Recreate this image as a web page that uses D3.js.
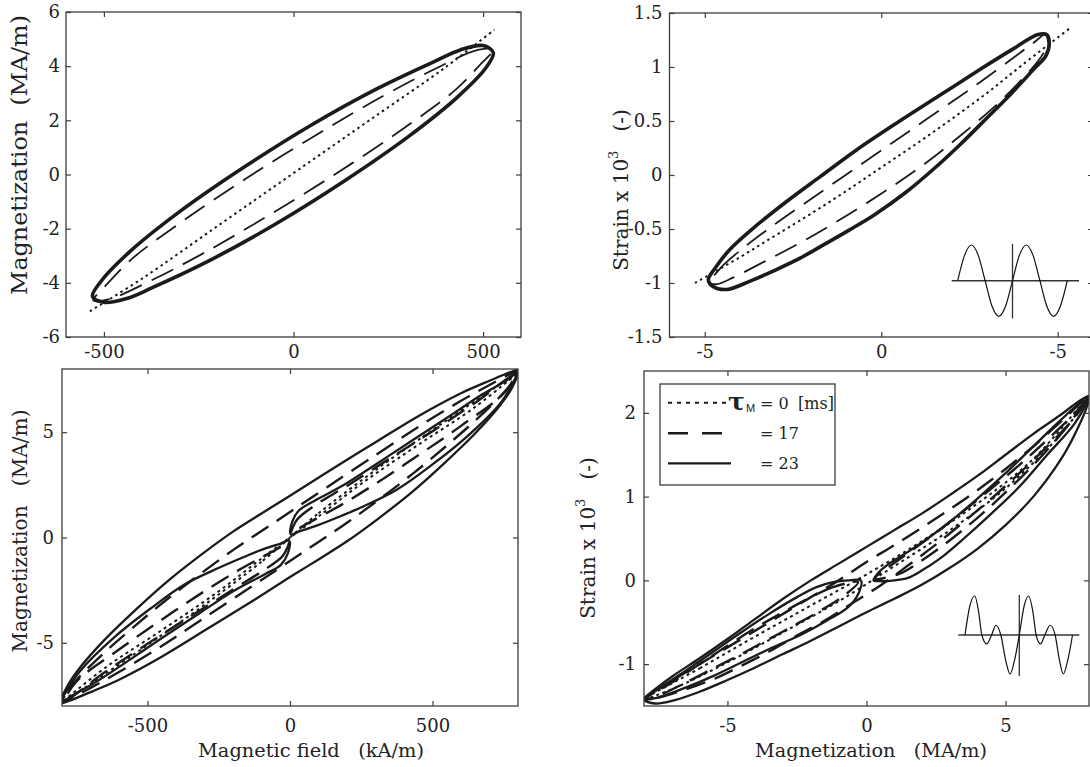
<!DOCTYPE html>
<html lang="en">
<head>
<meta charset="UTF-8">
<title>Magnetization and strain loops</title>
<script src="https://d3js.org/d3.v7.min.js"></script>
<style>
  body { margin: 0; background: #fff; }
  svg { display: block; }
  svg text { font-family: 'DejaVu Serif', 'Liberation Serif', serif; }
  .frame { fill: none; stroke: #3c3c3c; stroke-width: 1.3; }
  .axis line { stroke: #3c3c3c; stroke-width: 1.2; }
  .axis text { fill: #222; }
  .curve { fill: none; stroke: #1b1b1b; stroke-linejoin: round; stroke-linecap: butt; }
  .label { fill: #222; }
</style>
</head>
<body>
<svg id="chart" width="1090" height="767"></svg>
<script>
// ---------- data ----------
// top-left: magnetic field (kA/m) -> magnetization (MA/m), sine excitation
const tlXTicks = [-500, 0, 500];
const tlYTicks = [6, 4, 2, 0, -2, -4, -6];
const tlYLabels = ["6", "4", "2", "0", "-2", "-4", "-6"];
const tlDotted = [[-537,-5.05],[-400,-3.85],[-200,-1.9],[0,0.05],[200,2.0],[400,3.95],[530,5.35]];
const tlDashed = [[528,4.62],[486,4.6],[385,3.98],[238,2.91],[62,1.48],[-122,-0.12],[-291,-1.71],[-424,-3.09],[-496,-4.11],[-528,-4.65],[-486,-4.6],[-385,-3.98],[-238,-2.91],[-62,-1.48],[122,0.12],[291,1.71],[424,3.09],[496,4.11]];
const tlSolid = [[527,4.5],[500,4.76],[440,4.6],[371,4.17],[222,3.18],[45,1.81],[-136,0.22],[-302,-1.39],[-431,-2.84],[-508,-3.95],[-530,-4.5],[-500,-4.72],[-440,-4.58],[-371,-4.17],[-222,-3.18],[-45,-1.81],[136,-0.22],[302,1.39],[431,2.84],[508,3.95]];

// top-right: magnetization (MA/m) -> strain x 10^3, sine excitation
const trXTicks = [-5, 0, 5];
const trXLabels = ["-5", "0", "-5"];
const trYTicks = [1.5, 1, 0.5, 0, -0.5, -1, -1.5];
const trYLabels = ["1.5", "1", "0.5", "0", "-0.5", "-1", "-1.5"];
const trDotted = [[-5.28,-1.0],[-4,-0.76],[-3,-0.56],[-2,-0.36],[-1,-0.15],[0,0.07],[1,0.29],[2,0.52],[3,0.76],[4,1.02],[5.39,1.37]];
const trDashed = [[-4.85,-1.0],[-4.55,-0.86],[-4.0,-0.7],[-3.2,-0.5],[-2.2,-0.27],[-1.1,-0.02],[0.1,0.25],[1.3,0.52],[2.5,0.79],[3.6,1.05],[4.3,1.22],[4.65,1.3],[4.72,1.22],[4.5,1.08],[4.0,0.89],[3.2,0.63],[2.3,0.38],[1.3,0.12],[0.2,-0.13],[-1.0,-0.38],[-2.2,-0.61],[-3.3,-0.8],[-4.2,-0.95],[-4.65,-1.01]];
const trSolid = [[-4.9,-0.97],[-4.68,-0.85],[-4.29,-0.69],[-3.69,-0.51],[-2.7,-0.25],[-1.71,-0.01],[-0.71,0.23],[0.48,0.49],[1.67,0.74],[2.86,0.99],[3.75,1.17],[4.44,1.3],[4.69,1.3],[4.76,1.22],[4.66,1.1],[4.35,0.99],[3.7,0.76],[3.0,0.53],[2.26,0.29],[1.5,0.06],[0.7,-0.16],[-0.2,-0.37],[-0.91,-0.51],[-1.6,-0.64],[-2.3,-0.77],[-3.0,-0.88],[-3.7,-0.98],[-4.38,-1.06],[-4.78,-1.03]];

// bottom-left: magnetic field (kA/m) -> magnetization (MA/m), sine + 3rd harmonic
const blXTicks = [-500, 0, 500];
const blYTicks = [5, 0, -5];
const blDottedA = [[0,0],[100,1.15],[300,3.2],[500,5.1],[700,6.95],[800,7.85],[650,6.2],[450,4.4],[250,2.55],[100,1.0]];
const blDottedB = [[0,0],[-100,-1.15],[-300,-3.2],[-500,-5.1],[-700,-6.95],[-800,-7.85],[-650,-6.2],[-450,-4.4],[-250,-2.55],[-100,-1.0]];
const blDashedOuter = [[-800,-7.85],[-780,-7.27],[-740,-6.63],[-650,-5.45],[-540,-4.15],[-430,-2.92],[-310,-1.68],[-200,-0.6],[-100,0.31],[0,1.21],[130,2.39],[300,3.91],[450,5.25],[600,6.49],[700,7.24],[780,7.82],[800,7.92],[780,7.37],[740,6.73],[650,5.55],[540,4.25],[430,3.02],[310,1.78],[200,0.7],[100,-0.21],[0,-1.11],[-130,-2.29],[-300,-3.81],[-450,-5.15],[-600,-6.39],[-700,-7.14],[-780,-7.72]];
const blDashedSubA = [[4,0.2],[25,0.85],[90,1.55],[200,2.45],[350,3.75],[500,5.05],[650,6.4],[790,7.75],[750,6.85],[600,5.3],[450,3.9],[300,2.55],[180,1.55],[80,0.8],[20,0.35]];
const blDashedSubB = [[-4,-0.2],[-25,-0.87],[-92,-1.55],[-200,-2.47],[-350,-3.75],[-500,-5.05],[-650,-6.4],[-790,-7.75],[-750,-6.85],[-600,-5.32],[-450,-3.9],[-300,-2.55],[-180,-1.55],[-80,-0.8],[-20,-0.35]];
const blSolidOuter = [[-805,-7.85],[-780,-7.03],[-740,-6.23],[-650,-4.85],[-540,-3.41],[-430,-2.08],[-310,-0.8],[-200,0.28],[-100,1.14],[0,1.98],[130,3.1],[300,4.52],[450,5.76],[600,6.85],[700,7.44],[780,7.88],[800,7.95],[780,7.13],[740,6.33],[650,4.95],[540,3.51],[430,2.18],[310,0.9],[200,-0.18],[100,-1.04],[0,-1.88],[-130,-3.0],[-300,-4.42],[-450,-5.66],[-600,-6.75],[-700,-7.34],[-780,-7.78]];
const blSolidSubA = [[3,0.15],[8,0.75],[30,1.27],[80,1.7],[190,2.5],[310,3.55],[430,4.62],[555,5.72],[675,6.8],[770,7.55],[800,7.92],[775,7.15],[737,6.35],[615,4.72],[494,3.41],[373,2.26],[251,1.44],[166,0.95],[93,0.56],[35,0.3]];
const blSolidSubB = [[-3,-0.15],[-8,-0.77],[-32,-1.3],[-85,-1.72],[-195,-2.52],[-315,-3.57],[-435,-4.64],[-555,-5.74],[-676,-6.82],[-772,-7.57],[-805,-7.85],[-778,-7.15],[-737,-6.35],[-615,-4.72],[-494,-3.42],[-373,-2.25],[-251,-1.45],[-166,-0.95],[-93,-0.55],[-35,-0.3]];

// bottom-right: magnetization (MA/m) -> strain x 10^3, sine + 3rd harmonic
const brXTicks = [-5, 0, 5];
const brYTicks = [2, 1, 0, -1];
const brDotted = [[-8,-1.42],[-6,-1.05],[-4,-0.67],[-2,-0.3],[0,0.07],[2,0.47],[4,0.92],[6,1.45],[8,2.2],[7,1.75],[5,1.1],[3,0.6],[1,0.17],[-1,-0.25],[-3,-0.62],[-5,-0.98],[-7,-1.3]];
const brDashedOuter = [[-8,-1.42],[-7,-1.2],[-6,-1.0],[-5,-0.8],[-4,-0.6],[-3,-0.4],[-2,-0.2],[-1,0.0],[0,0.22],[1,0.42],[2,0.63],[3,0.85],[4,1.08],[5,1.33],[6,1.6],[7,1.9],[8,2.2],[7.5,1.95],[6.5,1.6],[5.5,1.28],[4.5,0.98],[3.5,0.7],[2.5,0.43],[1.5,0.18],[0.5,-0.06],[-0.5,-0.27],[-1.5,-0.48],[-2.5,-0.66],[-3.5,-0.85],[-4.5,-1.02],[-5.5,-1.18],[-6.5,-1.3],[-7.5,-1.4]];
const brDashedSubA = [[0.3,0.02],[0.8,0.16],[1.6,0.35],[2.5,0.57],[3.5,0.83],[4.5,1.1],[5.5,1.38],[6.5,1.68],[7.5,2.0],[8,2.2],[7,1.75],[6,1.38],[5,1.05],[4,0.75],[3,0.48],[2,0.24],[1.2,0.08]];
const brDashedSubB = [[-0.3,-0.02],[-1.2,-0.08],[-2,-0.2],[-3,-0.38],[-4,-0.57],[-5,-0.78],[-6,-1.0],[-7,-1.22],[-8,-1.42],[-7.5,-1.38],[-6.5,-1.22],[-5.5,-1.05],[-4.5,-0.88],[-3.5,-0.7],[-2.5,-0.52],[-1.6,-0.35],[-0.8,-0.18]];
const brSolidOuter = [[-8,-1.42],[-7.6,-1.3],[-7,-1.15],[-6,-0.93],[-5,-0.7],[-4,-0.46],[-3,-0.22],[-2,0.0],[-1,0.2],[0,0.4],[1,0.6],[2,0.8],[3,1.02],[4,1.25],[5,1.5],[6,1.75],[7,1.98],[7.6,2.13],[8,2.2],[7.95,2.1],[7.5,1.75],[7,1.45],[6,1.0],[5,0.66],[4,0.38],[3,0.15],[2,-0.05],[1,-0.22],[0,-0.38],[-1,-0.55],[-2,-0.72],[-3,-0.88],[-4,-1.04],[-5,-1.19],[-6,-1.33],[-7,-1.44],[-7.6,-1.47]];
const brSolidSubA = [[0.25,0.0],[0.45,0.1],[0.73,0.18],[1.49,0.34],[2.2,0.5],[3,0.7],[4,0.98],[5,1.28],[6,1.6],[7,1.92],[8,2.2],[7.5,1.88],[6.5,1.5],[5.5,1.12],[4.5,0.8],[3.5,0.5],[2.6,0.25],[2,0.12],[1.49,0.03],[1,0.0],[0.5,-0.01]];
const brSolidSubB = [[-0.2,0.0],[-0.6,0.0],[-1.2,-0.02],[-1.8,-0.08],[-2.5,-0.2],[-3.5,-0.4],[-4.5,-0.62],[-5.5,-0.85],[-6.5,-1.08],[-7.5,-1.3],[-8,-1.42],[-7.5,-1.4],[-6.5,-1.28],[-5.5,-1.14],[-4.5,-0.98],[-3.5,-0.82],[-2.3,-0.64],[-1.42,-0.48],[-0.66,-0.32],[-0.28,-0.15]];

// excitation insets (time in periods, normalised amplitude)
const sineWave = [[0,0],[0.125,0.71],[0.25,1],[0.375,0.71],[0.5,0],[0.625,-0.71],[0.75,-1],[0.875,-0.71],[1,0],[1.125,0.71],[1.25,1],[1.375,0.71],[1.5,0],[1.625,-0.71],[1.75,-1],[1.875,-0.71],[2,0]];
const harmonicWave = [[0,0],[0.09,0.75],[0.18,1],[0.25,0.6],[0.31,0],[0.4,-0.23],[0.49,0],[0.57,0.25],[0.66,0],[0.75,-0.65],[0.83,-1],[0.92,-0.6],[1,0],[1.09,0.75],[1.17,1],[1.25,0.6],[1.31,0],[1.39,-0.23],[1.47,0],[1.57,0.25],[1.66,0],[1.74,-0.65],[1.81,-1],[1.9,-0.6],[1.98,0]];

const legendNames = ["= 0", "= 17", "= 23"];

// ---------- drawing ----------
const svg = d3.select("#chart");

const styles = {
  top:    { dotted: { w: 2,   dash: "2.5,3.5" }, dashed: { w: 1.8, dash: "24,11" }, solid: { w: 3.6, dash: null } },
  bottom: { dotted: { w: 2,   dash: "3,3.5" },   dashed: { w: 2.4, dash: "20,10" }, solid: { w: 2.3, dash: null } }
};

function drawPanel(p) {
  const x = d3.scaleLinear().domain(p.xDomain).range([p.left, p.right]);
  const y = d3.scaleLinear().domain(p.yDomain).range([p.bottom, p.top]);
  const g = svg.append("g");

  const clipId = "clip-" + p.id;
  svg.append("clipPath").attr("id", clipId)
    .append("rect")
    .attr("x", p.left).attr("y", p.top)
    .attr("width", p.right - p.left).attr("height", p.bottom - p.top);

  const line = d3.line().x(d => x(d[0])).y(d => y(d[1]));
  p.series.forEach(s => {
    const st = styles[p.row][s.type];
    g.append("path")
      .datum(s.data)
      .attr("class", "curve")
      .attr("clip-path", `url(#${clipId})`)
      .attr("d", line.curve(s.closed ? d3.curveCatmullRomClosed.alpha(0.5) : d3.curveCatmullRom.alpha(0.5)))
      .attr("stroke-width", st.w)
      .attr("stroke-dasharray", st.dash);
  });

  // axes: ticks point inward on all four sides
  const xLab = p.xLabels ? (d => p.xLabels[p.xTicks.indexOf(d)]) : (d => d);
  const yLab = p.yLabels ? (d => p.yLabels[p.yTicks.indexOf(d)]) : (d => d);
  const axes = [
    g.append("g").attr("transform", `translate(0,${p.bottom})`)
      .call(d3.axisBottom(x).tickValues(p.xTicks).tickSize(-5).tickPadding(p.xPad).tickFormat(xLab)),
    g.append("g").attr("transform", `translate(${p.left},0)`)
      .call(d3.axisLeft(y).tickValues(p.yTicks).tickSize(-5).tickPadding(p.yPad).tickFormat(yLab)),
    g.append("g").attr("transform", `translate(0,${p.top})`)
      .call(d3.axisTop(x).tickValues(p.xTicks).tickSize(-5).tickFormat("")),
    g.append("g").attr("transform", `translate(${p.right},0)`)
      .call(d3.axisRight(y).tickValues(p.yTicks).tickSize(-5).tickFormat(""))
  ];
  axes.forEach(a => {
    a.attr("class", "axis").attr("font-family", null).attr("font-size", 18);
    a.select(".domain").remove();
  });

  g.append("rect").attr("class", "frame")
    .attr("x", p.left).attr("y", p.top)
    .attr("width", p.right - p.left).attr("height", p.bottom - p.top);

  return { x, y, g };
}

// top-left
drawPanel({
  id: "tl", row: "top", left: 66, right: 521, top: 12, bottom: 337,
  xDomain: [-600, 600], yDomain: [-6, 6], xTicks: tlXTicks, yTicks: tlYTicks, yLabels: tlYLabels,
  xPad: 8, yPad: 6,
  series: [
    { data: tlDotted, type: "dotted", closed: false },
    { data: tlDashed, type: "dashed", closed: true },
    { data: tlSolid, type: "solid", closed: true }
  ]
});

// top-right
drawPanel({
  id: "tr", row: "top", left: 669.5, right: 1093, top: 13, bottom: 337,
  xDomain: [-6, 6], yDomain: [-1.5, 1.5], xTicks: trXTicks, xLabels: trXLabels, yTicks: trYTicks, yLabels: trYLabels,
  xPad: 8, yPad: 7,
  series: [
    { data: trDotted, type: "dotted", closed: false },
    { data: trDashed, type: "dashed", closed: true },
    { data: trSolid, type: "solid", closed: true }
  ]
});

// bottom-left
drawPanel({
  id: "bl", row: "bottom", left: 62, right: 518, top: 369, bottom: 706,
  xDomain: [-800, 800], yDomain: [-8, 8], xTicks: blXTicks, yTicks: blYTicks,
  xPad: 13, yPad: 8,
  series: [
    { data: blDottedA, type: "dotted", closed: true },
    { data: blDottedB, type: "dotted", closed: true },
    { data: blDashedOuter, type: "dashed", closed: true },
    { data: blDashedSubA, type: "dashed", closed: true },
    { data: blDashedSubB, type: "dashed", closed: true },
    { data: blSolidOuter, type: "solid", closed: true },
    { data: blSolidSubA, type: "solid", closed: true },
    { data: blSolidSubB, type: "solid", closed: true }
  ]
});

// bottom-right
drawPanel({
  id: "br", row: "bottom", left: 644, right: 1089, top: 371, bottom: 706,
  xDomain: [-8, 8], yDomain: [-1.5, 2.5], xTicks: brXTicks, yTicks: brYTicks,
  xPad: 13, yPad: 8,
  series: [
    { data: brDotted, type: "dotted", closed: true },
    { data: brDashedOuter, type: "dashed", closed: true },
    { data: brDashedSubA, type: "dashed", closed: true },
    { data: brDashedSubB, type: "dashed", closed: true },
    { data: brSolidOuter, type: "solid", closed: true },
    { data: brSolidSubA, type: "solid", closed: true },
    { data: brSolidSubB, type: "solid", closed: true }
  ]
});

// axis titles
function rotLabel(cx, cy, size) {
  return svg.append("text").attr("class", "label")
    .attr("transform", `translate(${cx},${cy}) rotate(-90)`)
    .attr("text-anchor", "middle").attr("font-size", size)
    .attr("dy", "0.35em");
}
rotLabel(19, 155, 23).attr("textLength", 280).attr("lengthAdjust", "spacingAndGlyphs")
  .text("Magnetization\u00a0\u00a0(MA/m)");
rotLabel(20, 531, 20).attr("textLength", 243).attr("lengthAdjust", "spacingAndGlyphs")
  .text("Magnetization\u00a0\u00a0\u00a0(MA/m)");
[[621, 190], [588, 538]].forEach(([cx, cy]) => {
  const t = rotLabel(cx, cy, 20);
  t.append("tspan").text("Strain x 10");
  t.append("tspan").attr("font-size", 13).attr("dy", "-0.8em").text("3");
  t.append("tspan").attr("dy", "0.5em").text("\u00a0\u00a0\u00a0(-)");
});

svg.append("text").attr("class", "label").attr("x", 311).attr("y", 757)
  .attr("text-anchor", "middle").attr("font-size", 19)
  .attr("textLength", 226).attr("lengthAdjust", "spacingAndGlyphs")
  .text("Magnetic field\u00a0\u00a0\u00a0(kA/m)");
svg.append("text").attr("class", "label").attr("x", 871).attr("y", 757)
  .attr("text-anchor", "middle").attr("font-size", 19)
  .attr("textLength", 232).attr("lengthAdjust", "spacingAndGlyphs")
  .text("Magnetization\u00a0\u00a0\u00a0(MA/m)");

// excitation insets
function drawInset(wave, box) {
  const ix = d3.scaleLinear().domain([0, 2]).range([box.x0, box.x1]);
  const iy = d3.scaleLinear().domain([-1, 1]).range([box.mid + box.amp, box.mid - box.amp]);
  const g = svg.append("g");
  g.append("line").attr("x1", box.axL).attr("x2", box.axR).attr("y1", iy(0)).attr("y2", iy(0))
    .attr("stroke", "#333").attr("stroke-width", 1.4);
  g.append("line").attr("x1", ix(1)).attr("x2", ix(1)).attr("y1", iy(1) - 1).attr("y2", iy(-1) + 2)
    .attr("stroke", "#333").attr("stroke-width", 1.3);
  g.append("path").datum(wave)
    .attr("d", d3.line().x(d => ix(d[0])).y(d => iy(d[1])).curve(d3.curveMonotoneX))
    .attr("fill", "none").attr("stroke", "#111").attr("stroke-width", 1.2);
}
drawInset(sineWave, { x0: 957.7, x1: 1067.3, mid: 280.7, amp: 35.7, axL: 951.7, axR: 1079 });
drawInset(harmonicWave, { x0: 965, x1: 1073.6, mid: 635, amp: 39, axL: 958.3, axR: 1079.3 });

// legend (bottom-right panel)
const leg = svg.append("g");
leg.append("rect").attr("x", 660).attr("y", 384).attr("width", 175).attr("height", 101)
  .attr("fill", "#fff").attr("stroke", "#3c3c3c").attr("stroke-width", 1.3);
const legRows = [
  { y: 402.7, dash: "4,5", w: 2 },
  { y: 433.3, dash: "20,14", w: 2.4 },
  { y: 463.3, dash: null, w: 2.3 }
];
legRows.forEach((r, i) => {
  leg.append("line").attr("x1", 668).attr("x2", i === 0 ? 727 : 731)
    .attr("y1", r.y).attr("y2", r.y)
    .attr("stroke", "#1b1b1b").attr("stroke-width", r.w).attr("stroke-dasharray", r.dash);
  leg.append("text").attr("class", "label").attr("x", 760).attr("y", r.y + 6)
    .attr("font-size", 16).text(legendNames[i]);
});
leg.append("text").attr("class", "label").attr("x", 728).attr("y", legRows[0].y + 7)
  .attr("font-size", 25).attr("font-weight", "bold").text("\u03c4");
leg.append("text").attr("class", "label").attr("x", 746).attr("y", legRows[0].y + 9)
  .style("font-family", "'Liberation Sans', 'DejaVu Sans', sans-serif").attr("font-size", 11).text("M");
leg.append("text").attr("class", "label").attr("x", 798).attr("y", legRows[0].y + 6)
  .attr("font-size", 16).text("[ms]");
</script>
</body>
</html>
